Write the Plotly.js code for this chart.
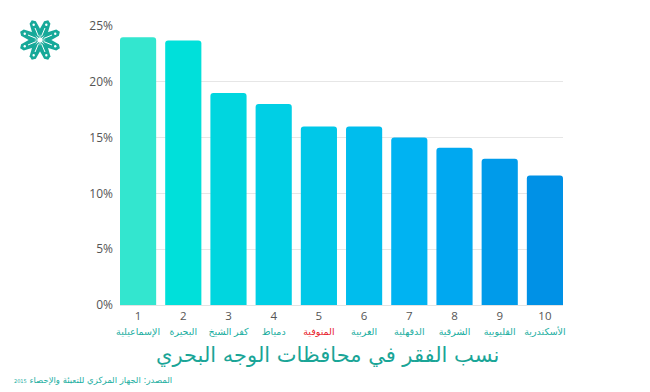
<!DOCTYPE html>
<html>
<head>
<meta charset="utf-8">
<script src="https://cdn.plot.ly/plotly-3.0.1.min.js"></script>
<style>html,body{margin:0;padding:0;background:#fff;}#chart{width:650px;height:392px;}</style>
</head>
<body>
<div id="chart"></div>
<script>
const ranks = [1, 2, 3, 4, 5, 6, 7, 8, 9, 10];
const governorates = ['الإسماعيلية', 'البحيرة', 'كفر الشيخ', 'دمياط', 'المنوفية', 'الغربية', 'الدقهلية', 'الشرقية', 'القليوبية', 'الأسكندرية'];
const povertyRates = [24.0, 23.7, 19.0, 18.0, 16.0, 16.0, 15.0, 14.1, 13.1, 11.6];
const barColors = ['#33E6CF', '#00E0DA', '#00D6DF', '#00CFE5', '#00C8E8', '#00BDED', '#00B3F2', '#00A8F0', '#009BEA', '#0091E6'];
const labelColors = ['#1AAE9F', '#1AAE9F', '#1AAE9F', '#1AAE9F', '#E8202A', '#1AAE9F', '#1AAE9F', '#1AAE9F', '#1AAE9F', '#1AAE9F'];
const yTicks = [0, 5, 10, 15, 20, 25];
const chartTitle = 'نسب الفقر في محافظات الوجه البحري';
const sourceText = 'المصدر: الجهاز المركزي للتعبئة والإحصاء <span style="font-size:5px">2015</span>';

const xIdx = ranks.map((r, i) => i);
const tickText = ranks.map((r, i) => r + '<br><span style="font-size:9.5px;color:' + labelColors[i] + '">' + governorates[i] + '</span>');

const trace = {
  type: 'bar',
  x: xIdx,
  y: povertyRates,
  width: 0.8,
  marker: {color: barColors, cornerradius: 3, line: {width: 0}},
  hoverinfo: 'none'
};

// plot area in pixels: x 120..563, y 26..305
const PL = 120, PR = 563, PT = 26, PB = 305;
const px = v => (v - PL) / (PR - PL);
const py = v => (PB - v) / (PB - PT);

// logo petals (pixel sized shapes anchored in paper coords)
const shapes = [];
const cx = px(40), cy = py(40);
for (let k = 0; k < 8; k++) {
  const a = k * Math.PI / 4 + Math.PI / 8;
  const ca = Math.cos(a), sa = Math.sin(a);
  const pt = (r, w) => [r * ca - w * sa, r * sa + w * ca];
  const p = [pt(2, 0), pt(9, 4.5), pt(19, 3.4), pt(21.5, 0), pt(19, -3.4), pt(9, -4.5)];
  const d = 'M' + p.map(q => q[0].toFixed(2) + ',' + q[1].toFixed(2)).join(' L') + ' Z';
  shapes.push({type: 'path', xref: 'paper', yref: 'paper', xsizemode: 'pixel', ysizemode: 'pixel',
    xanchor: cx, yanchor: cy, path: d, fillcolor: '#17A999', line: {width: 0}, layer: 'above'});
  const q1 = pt(4, 0), q2 = pt(13, 0);
  shapes.push({type: 'path', xref: 'paper', yref: 'paper', xsizemode: 'pixel', ysizemode: 'pixel',
    xanchor: cx, yanchor: cy, path: 'M' + q1[0].toFixed(2) + ',' + q1[1].toFixed(2) + ' L' + q2[0].toFixed(2) + ',' + q2[1].toFixed(2),
    line: {color: '#ffffff', width: 1}, layer: 'above'});
  const dt = pt(16.5, 0);
  shapes.push({type: 'circle', xref: 'paper', yref: 'paper', xsizemode: 'pixel', ysizemode: 'pixel',
    xanchor: cx, yanchor: cy, x0: dt[0] - 1.2, x1: dt[0] + 1.2, y0: dt[1] - 1.2, y1: dt[1] + 1.2,
    fillcolor: '#ffffff', line: {width: 0}, layer: 'above'});
}

const layout = {
  width: 650, height: 392,
  margin: {l: PL, r: 650 - PR, t: PT, b: 392 - PB},
  paper_bgcolor: '#ffffff', plot_bgcolor: '#ffffff',
  showlegend: false,
  bargap: 0.2,
  font: {family: 'Open Sans, DejaVu Sans, sans-serif', color: '#555555'},
  xaxis: {
    range: [-0.4, 9.4],
    tickmode: 'array', tickvals: xIdx, ticktext: tickText, tickangle: 0,
    tickfont: {size: 11.5, color: '#555555', family: 'Open Sans, DejaVu Sans, sans-serif'},
    showgrid: false, zeroline: false,
    showline: true, linecolor: '#e3e3e3', linewidth: 1,
    ticks: '', fixedrange: true
  },
  yaxis: {
    range: [0, 25],
    tickmode: 'array', tickvals: yTicks, ticktext: yTicks.map(v => v + '%'),
    tickfont: {size: 12, color: '#555555'},
    showgrid: true, gridcolor: '#e6e6e6', gridwidth: 1,
    zeroline: false, showline: false, ticks: '', ticklabelstandoff: 6, fixedrange: true
  },
  annotations: [
    {text: chartTitle, xref: 'paper', yref: 'paper', x: px(327), y: py(355),
      xanchor: 'center', yanchor: 'middle', showarrow: false,
      font: {family: 'DejaVu Sans, sans-serif', size: 21, color: '#1AA597'}},
    {text: sourceText, xref: 'paper', yref: 'paper', x: px(12), y: py(380),
      xanchor: 'left', yanchor: 'middle', showarrow: false,
      font: {family: 'DejaVu Sans, sans-serif', size: 8.5, color: '#1AAE9F'}}
  ],
  shapes: shapes
};

Plotly.newPlot('chart', [trace], layout, {displayModeBar: false, staticPlot: true});
</script>
</body>
</html>
